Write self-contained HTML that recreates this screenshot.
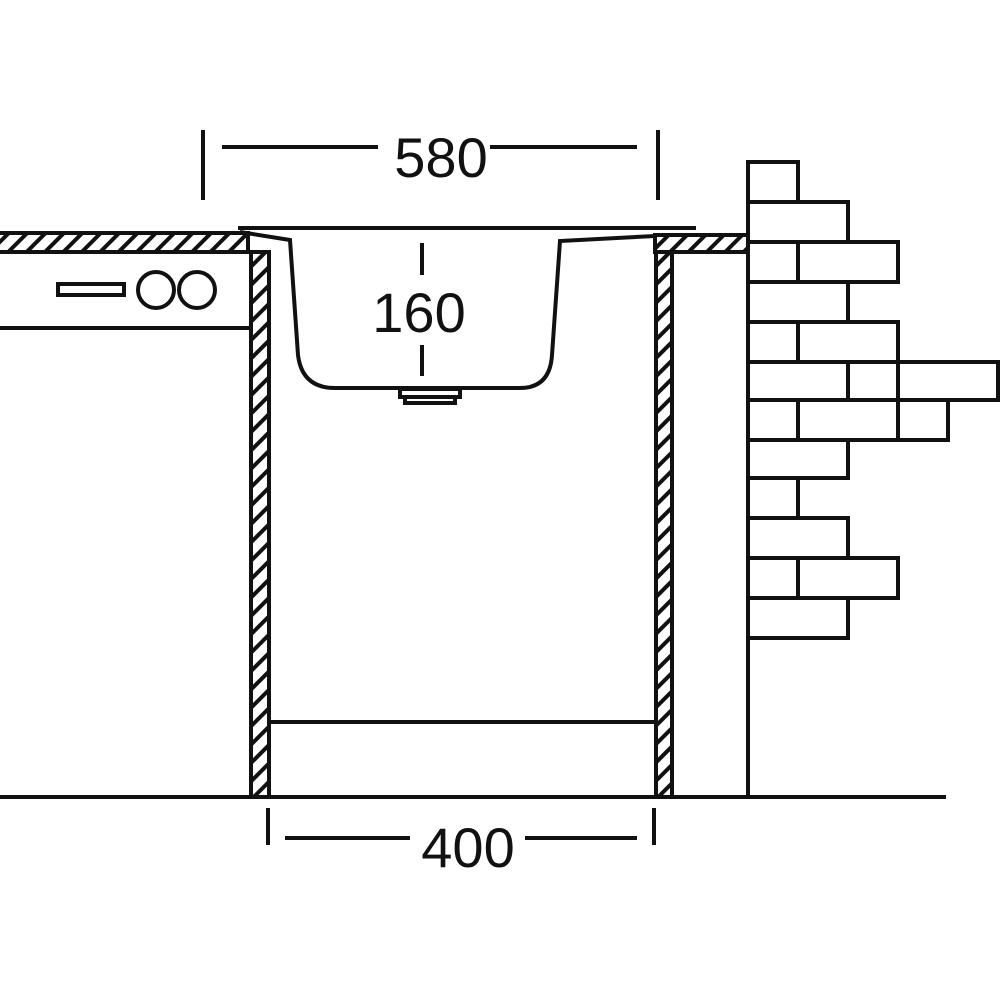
<!DOCTYPE html>
<html><head><style>body{margin:0;background:#fff}svg{display:block}</style></head><body>
<svg width="1000" height="1000" viewBox="0 0 1000 1000" xmlns="http://www.w3.org/2000/svg">
<defs>
<pattern id="h" patternUnits="userSpaceOnUse" width="13" height="13" patternTransform="rotate(45)">
<rect width="13" height="13" fill="#fff"/><rect width="4" height="13" fill="#111"/>
</pattern>
</defs>
<g stroke="#111" stroke-width="4" fill="none">
<rect x="-5" y="233" width="253" height="19" fill="url(#h)"/>
<rect x="655" y="235" width="93" height="17" fill="url(#h)"/>
<rect x="251" y="252" width="18" height="545" fill="url(#h)"/>
<rect x="656" y="252" width="16" height="545" fill="url(#h)"/>
<line x1="238" y1="228" x2="696" y2="228"/>
<path d="M240 232 L290 240 L298 355 Q302 388 335 388 L520 388 Q550 388 552 355 L560 241 L655 236"/>
<rect x="400" y="389" width="60" height="8" fill="#fff"/>
<rect x="405" y="397" width="50" height="6" fill="#fff"/>
<line x1="0" y1="328" x2="250" y2="328"/>
<rect x="58" y="284" width="66" height="11"/>
<circle cx="156" cy="290" r="18"/>
<circle cx="197" cy="290" r="18"/>
<line x1="270" y1="722" x2="655" y2="722"/>
<line x1="0" y1="797" x2="946" y2="797"/>
<line x1="748" y1="160" x2="748" y2="797"/>
<rect x="748" y="162" width="50" height="40"/>
<rect x="748" y="202" width="100" height="40"/>
<rect x="798" y="242" width="100" height="40"/>
<rect x="748" y="282" width="100" height="40"/>
<rect x="798" y="322" width="100" height="40"/>
<rect x="748" y="362" width="100" height="38"/>
<rect x="848" y="362" width="50" height="38"/>
<rect x="898" y="362" width="100" height="38"/>
<rect x="798" y="400" width="100" height="40"/>
<rect x="898" y="400" width="50" height="40"/>
<rect x="748" y="440" width="100" height="38"/>
<rect x="748" y="478" width="50" height="40"/>
<rect x="748" y="518" width="100" height="40"/>
<rect x="798" y="558" width="100" height="40"/>
<rect x="748" y="598" width="100" height="40"/>
<line x1="203" y1="130" x2="203" y2="200"/>
<line x1="658" y1="130" x2="658" y2="200"/>
<line x1="222" y1="147" x2="378" y2="147"/>
<line x1="490" y1="147" x2="637" y2="147"/>
<line x1="422" y1="243" x2="422" y2="275"/>
<line x1="422" y1="345" x2="422" y2="376"/>
<line x1="268" y1="808" x2="268" y2="845"/>
<line x1="654" y1="808" x2="654" y2="845"/>
<line x1="285" y1="838" x2="410" y2="838"/>
<line x1="525" y1="838" x2="637" y2="838"/>
</g>
<g font-family="Liberation Sans, sans-serif" font-size="56" fill="#111" text-anchor="middle">
<text x="441" y="177">580</text>
<text x="419" y="332">160</text>
<text x="468" y="867">400</text>
</g>
</svg>
</body></html>
